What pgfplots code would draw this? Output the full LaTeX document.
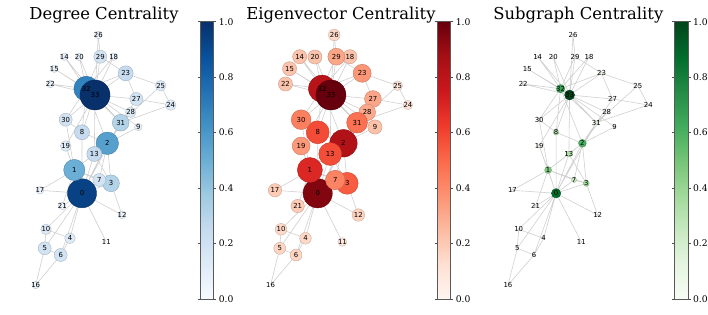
\documentclass[border=0pt]{standalone}
\usepackage{pgfplots}
\pgfplotsset{compat=1.18}
\usepackage{pgfplotstable}
\usepackage{fontspec}
\setmainfont{DejaVu Serif}
\newfontfamily\lblfont{DejaVu Sans}
\usetikzlibrary{calc}

\definecolor{edgecol}{RGB}{208,208,208}

\pgfplotsset{
  colormap={Blues}{rgb255=(247,251,255) rgb255=(222,235,247) rgb255=(198,219,239) rgb255=(158,202,225) rgb255=(107,174,214) rgb255=(66,146,198) rgb255=(33,113,181) rgb255=(8,81,156) rgb255=(8,48,107)},
  colormap={Reds}{rgb255=(255,245,240) rgb255=(254,224,210) rgb255=(252,187,161) rgb255=(252,146,114) rgb255=(251,106,74) rgb255=(239,59,44) rgb255=(203,24,29) rgb255=(165,15,21) rgb255=(103,0,13)},
  colormap={Greens}{rgb255=(247,252,245) rgb255=(229,245,224) rgb255=(199,233,192) rgb255=(161,217,155) rgb255=(116,196,118) rgb255=(65,171,93) rgb255=(35,139,69) rgb255=(0,109,44) rgb255=(0,68,27)},
  panel/.style={hide axis, scale only axis, width=708pt, height=315pt,
    at={(0,0)}, anchor=south west, ymin=0, ymax=315, y dir=reverse, clip=false,
    point meta min=0, point meta max=1, colorbar},
  cbar/.style={colorbar style={
    at={($(parent axis.south west)+(#1pt,16pt)$)}, anchor=south west,
    scale only axis, width=13.5pt, height=277.3pt, y dir=normal,
    ytick={0,0.2,0.4,0.6,0.8,1},
    tick align=outside, major tick length=2.5pt,
    axis line style={black!65, line width=0.6pt},
    tick style={black!70, line width=0.5pt},
    yticklabel pos=right,
    yticklabel style={font=\fontsize{9.2}{10}\selectfont,
      /pgf/number format/assume math mode=true,
      /pgf/number format/fixed, /pgf/number format/fixed zerofill,
      /pgf/number format/precision=1, xshift=-1pt}}},
  nlabels/.style={only marks, mark=none, nodes near coords, point meta=explicit symbolic,
    nodes near coords style={anchor=center, inner sep=0pt, text=black,
      font=\lblfont\fontsize{6.9}{7}\selectfont}},
}

\pgfplotstableread{
id x y d e s
0 82 193.3 0.9375 0.949 0.88
1 74.3 170 0.5 0.693 0.47
2 107.3 143.3 0.5625 0.839 0.60
3 111 183.3 0.3125 0.536 0.36
4 70 238.3 0.125 0.150 0.04
5 44.7 248.3 0.1875 0.160 0.05
6 60.7 255 0.1875 0.160 0.05
7 99.3 180 0.1875 0.421 0.25
8 82 132.3 0.25 0.583 0.30
9 138.3 127 0.0625 0.226 0.06
10 46 229.3 0.125 0.150 0.04
11 106.3 242 0 0.084 0.02
12 122 215 0.0625 0.174 0.06
13 94.3 154 0.25 0.580 0.32
14 64.3 56.7 0.0625 0.222 0.07
15 54.3 68.7 0.0625 0.222 0.07
16 35.7 285 0.0625 0 0
17 40 190.3 0.0625 0.197 0.08
18 113.7 56.7 0.0625 0.222 0.07
19 65.7 146 0.125 0.355 0.12
20 79.3 57 0.0625 0.222 0.07
21 62.3 206 0.0625 0.197 0.08
22 50.3 84 0.0625 0.222 0.07
23 125.7 73.3 0.25 0.362 0.12
24 170.7 105 0.125 0.096 0.03
25 160.7 85.7 0.125 0.102 0.03
26 98.3 35 0.0625 0.149 0.04
27 136.3 99 0.1875 0.314 0.10
28 130.7 112.3 0.125 0.307 0.10
29 100.3 56.7 0.1875 0.318 0.10
30 65.7 119.7 0.1875 0.432 0.15
31 120.7 122.7 0.3125 0.479 0.15
32 86.3 88.7 0.6875 0.815 0.66
33 95 95 1 1 1
}\nodes

\newcommand{\drawedges}{%
\addplot[edgecol, line width=0.6pt, line join=round, line cap=round, unbounded coords=jump, mark=none] coordinates {
(82,193.3) (74.3,170) (82,193.3) (107.3,143.3) (82,193.3) (111,183.3) (82,193.3) (70,238.3) (82,193.3) (44.7,248.3) (82,193.3) (60.7,255) (82,193.3) (99.3,180) (82,193.3) (82,132.3) (82,193.3) (46,229.3) (82,193.3) (106.3,242) (82,193.3) (122,215) (82,193.3) (94.3,154) (82,193.3) (40,190.3) (82,193.3) (65.7,146) (82,193.3) (62.3,206) (82,193.3) (120.7,122.7) (nan,nan)
(74.3,170) (107.3,143.3) (74.3,170) (111,183.3) (74.3,170) (99.3,180) (74.3,170) (94.3,154) (74.3,170) (40,190.3) (74.3,170) (65.7,146) (74.3,170) (62.3,206) (74.3,170) (65.7,119.7) (nan,nan)
(107.3,143.3) (111,183.3) (107.3,143.3) (99.3,180) (107.3,143.3) (82,132.3) (107.3,143.3) (138.3,127) (107.3,143.3) (94.3,154) (107.3,143.3) (136.3,99) (107.3,143.3) (130.7,112.3) (107.3,143.3) (86.3,88.7) (nan,nan)
(111,183.3) (99.3,180) (111,183.3) (122,215) (111,183.3) (94.3,154) (nan,nan)
(60.7,255) (70,238.3) (46,229.3) (nan,nan)
(46,229.3) (44.7,248.3) (60.7,255) (35.7,285) (44.7,248.3) (nan,nan)
(65.7,119.7) (82,132.3) (86.3,88.7) (82,132.3) (95,95) (nan,nan)
(95,95) (138.3,127) (95,95) (94.3,154) (95,95) (64.3,56.7) (95,95) (54.3,68.7) (95,95) (113.7,56.7) (95,95) (65.7,146) (95,95) (79.3,57) (95,95) (50.3,84) (95,95) (125.7,73.3) (95,95) (98.3,35) (95,95) (136.3,99) (95,95) (130.7,112.3) (95,95) (100.3,56.7) (95,95) (65.7,119.7) (95,95) (120.7,122.7) (95,95) (86.3,88.7) (nan,nan)
(86.3,88.7) (64.3,56.7) (86.3,88.7) (54.3,68.7) (86.3,88.7) (113.7,56.7) (86.3,88.7) (79.3,57) (86.3,88.7) (50.3,84) (86.3,88.7) (125.7,73.3) (86.3,88.7) (100.3,56.7) (86.3,88.7) (65.7,119.7) (86.3,88.7) (120.7,122.7) (nan,nan)
(100.3,56.7) (125.7,73.3) (160.7,85.7) (170.7,105) (136.3,99) (125.7,73.3) (nan,nan)
(160.7,85.7) (120.7,122.7) (170.7,105) (nan,nan)
(130.7,112.3) (120.7,122.7) (nan,nan)
(98.3,35) (100.3,56.7)
};}

\begin{document}
\begin{tikzpicture}
\path[use as bounding box] (0,0) rectangle (708pt,315pt);

% Degree
\begin{axis}[panel, xmin=0, xmax=708, colormap name=Blues, cbar=191.7]
\drawedges
\addplot[scatter, only marks, mark=*, point meta=\thisrow{d},
  visualization depends on={15*sqrt(\thisrow{d}) \as \rr},
  scatter/@pre marker code/.append style={/tikz/mark size=\rr}]
  table[x=x, y=y] {\nodes};
\addplot[nlabels] table[x=x, y=y, meta=id] {\nodes};
\end{axis}

% Eigenvector
\begin{axis}[panel, xmin=-230.4, xmax=465.8, colormap name=Reds, cbar=428.7]
\drawedges
\addplot[scatter, only marks, mark=*, point meta=\thisrow{e},
  visualization depends on={15*sqrt(\thisrow{e}) \as \rr},
  scatter/@pre marker code/.append style={/tikz/mark size=\rr}]
  table[x=x, y=y] {\nodes};
\addplot[nlabels] table[x=x, y=y, meta=id] {\nodes};
\end{axis}

% Subgraph
\begin{axis}[panel, xmin=-453.2, xmax=228.2, colormap name=Greens, cbar=666]
\drawedges
\addplot[scatter, only marks, mark=*, point meta=\thisrow{s},
  visualization depends on={5*sqrt(\thisrow{s}) \as \rr},
  scatter/@pre marker code/.append style={/tikz/mark size=\rr}]
  table[x=x, y=y] {\nodes};
\addplot[nlabels] table[x=x, y=y, meta=id] {\nodes};
\end{axis}

\node[anchor=base, font=\fontsize{16.4}{18}\selectfont, inner sep=0pt] at (104pt,295.7pt) {Degree Centrality};
\node[anchor=base, font=\fontsize{16.4}{18}\selectfont, inner sep=0pt] at (341pt,295.7pt) {Eigenvector Centrality};
\node[anchor=base, font=\fontsize{16.4}{18}\selectfont, inner sep=0pt] at (578.3pt,295.7pt) {Subgraph Centrality};
\end{tikzpicture}
\end{document}
